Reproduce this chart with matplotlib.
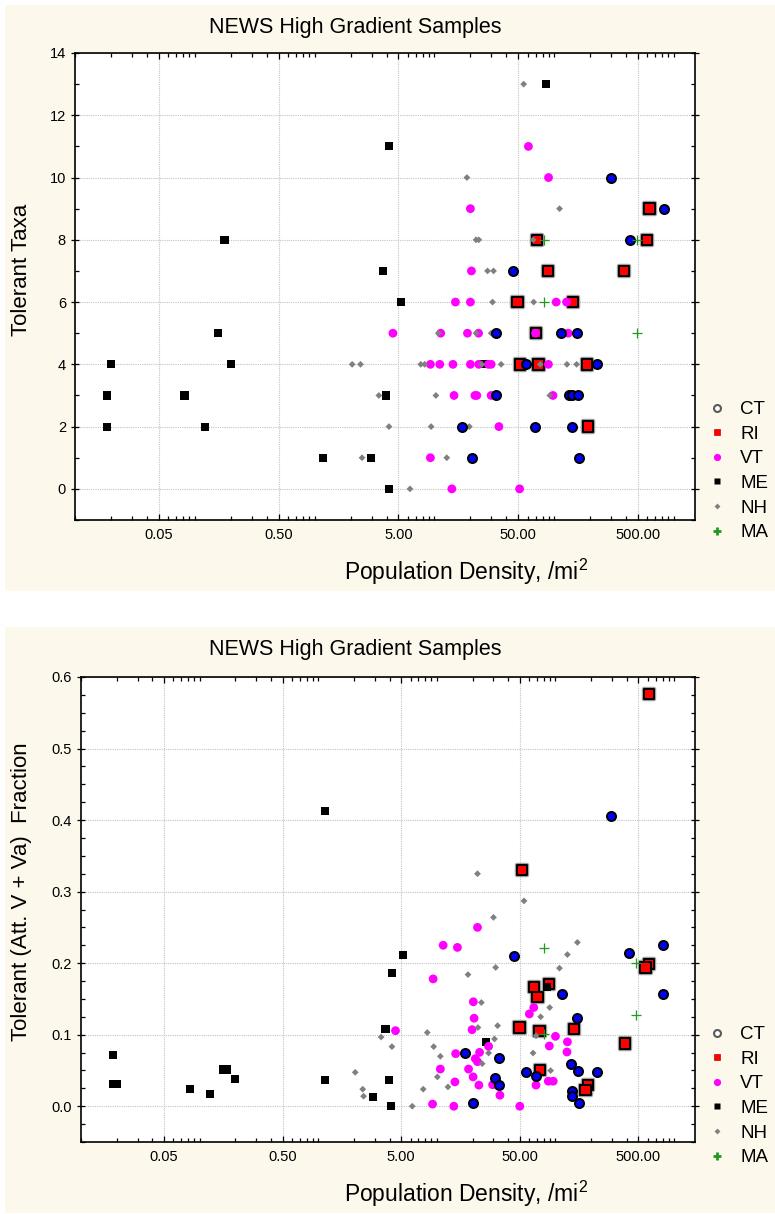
import matplotlib
matplotlib.use("Agg")
import matplotlib.pyplot as plt
import matplotlib.patheffects as pe
from matplotlib.lines import Line2D
from matplotlib.patches import Rectangle
from matplotlib.ticker import FixedLocator, FixedFormatter, LogLocator, MultipleLocator, NullFormatter

plt.rcParams["font.family"] = ["Liberation Sans", "DejaVu Sans"]
plt.rcParams["mathtext.fontset"] = "custom"
plt.rcParams["mathtext.rm"] = "Liberation Sans"

# ---------------- data: tolerant taxa per sample ----------------
ct_density_taxa = [298, 830, 429, 45.6, 32.8, 114, 154, 57.9, 226, 32.8, 132, 141, 157, 17.1, 69.2, 141, 20.8, 161]
ct_taxa = [10, 9, 8, 7, 5, 5, 5, 4, 4, 3, 3, 3, 3, 2, 2, 2, 1, 1]

ri_density_taxa = [627, 71.6, 599, 88.5, 385, 49.5, 144, 70.5, 51.6, 74.3, 188, 191]
ri_taxa = [9, 8, 8, 7, 7, 6, 6, 5, 4, 4, 4, 2]

vt_density_taxa = [61, 89.8, 20, 20.4, 15.0, 20.0, 104, 127, 4.51, 11.3, 18.9, 23.4, 70, 131,
                   9.27, 11.1, 14.3, 20.0, 23.5, 28.3, 29.8, 89.6, 14.6, 21.8, 22.6, 29.8, 97.8,
                   34.6, 9.27, 14.0, 51.5]
vt_taxa = [11, 10, 9, 7, 6, 6, 6, 6, 5, 5, 5, 5, 5, 5, 4, 4, 4, 4, 4, 4, 4, 4, 3, 3, 3, 3, 3,
           2, 1, 0, 0]

me_density_taxa = [0.0185, 0.0185, 0.020, 0.082, 0.122, 0.156, 0.177, 0.201, 1.17, 2.96, 3.74,
                   3.98, 4.15, 4.2, 5.24, 25.9, 85.8]
me_taxa = [2, 3, 4, 3, 2, 5, 8, 4, 1, 1, 7, 3, 0, 11, 6, 4, 13]

nh_density_taxa = [55.7, 18.7, 111, 22.3, 23.5, 66.8, 27.8, 31.2, 30.6, 67.5, 10.8, 22.3, 29.8,
                   2.06, 2.42, 7.7, 8.3, 24.9, 36.1, 76.7, 128, 154, 3.44, 10.3, 92, 4.18, 9.4,
                   19.6, 2.49, 12.7, 6.26]
nh_taxa = [13, 10, 9, 8, 8, 8, 7, 7, 6, 6, 5, 5, 5, 4, 4, 4, 4, 4, 4, 4, 4, 4, 3, 3, 3, 2, 2,
           2, 1, 1, 0]

ma_density_taxa = [82, 495, 81.8, 488]
ma_taxa = [8, 8, 6, 5]

# ---------------- data: tolerant fraction per sample ----------------
ct_density_frac = [295, 44.5, 418, 805, 805, 113, 153, 17.1, 33.4, 134, 156, 223, 56.5, 69, 31,
                   33.5, 20.1, 138, 138, 159]
ct_frac = [0.406, 0.210, 0.214, 0.226, 0.157, 0.157, 0.124, 0.074, 0.0675, 0.059, 0.049, 0.048,
           0.048, 0.042, 0.040, 0.030, 0.004, 0.021, 0.0145, 0.005]

ri_density_frac = [611, 52.3, 615, 573, 65.9, 87.7, 70.3, 49.7, 73.1, 143, 384, 73.6, 187, 179]
ri_frac = [0.576, 0.3305, 0.199, 0.194, 0.167, 0.171, 0.1526, 0.110, 0.105, 0.108, 0.0879,
           0.051, 0.0295, 0.0224]

vt_density_frac = [22.0, 11.3, 14.9, 9.3, 65.6, 60.2, 20.3, 20.6, 19.8, 4.48, 100, 126, 88.7,
                   125, 14.4, 22.9, 21.1, 22.0, 27.3, 10.7, 18.5, 20.2, 14.2, 9.2, 13.9, 22.6,
                   29.5, 34.0, 50, 68.5, 87, 95.7]
vt_frac = [0.250, 0.225, 0.222, 0.178, 0.138, 0.129, 0.146, 0.123, 0.107, 0.1056, 0.0977, 0.090,
           0.0842, 0.0758, 0.0735, 0.0753, 0.0665, 0.0623, 0.0837, 0.052, 0.052, 0.041, 0.034,
           0.003, 0.0, 0.0295, 0.030, 0.0154, 0.0, 0.0295, 0.035, 0.035]

me_density_frac = [0.0185, 0.0185, 0.020, 0.158, 0.171, 0.200, 0.0824, 0.122, 1.15, 1.15, 3.93,
                   2.92, 4.07, 3.69, 4.2, 5.2, 84.3, 26.1]
me_frac = [0.0716, 0.031, 0.031, 0.0514, 0.0514, 0.0379, 0.0238, 0.0168, 0.413, 0.0365, 0.0365,
           0.013, 0.0, 0.1075, 0.186, 0.212, 0.1665, 0.090]

nh_density_frac = [22.0, 54.3, 30.0, 153, 126, 108, 31.3, 18.3, 89.3, 75, 23.7, 22.2, 32.5, 8.3,
                   68.6, 4.18, 9.4, 30.6, 10.7, 24.1, 27.3, 64.7, 91, 10.1, 2.05, 3.39, 2.37,
                   2.41, 6.2, 7.67, 12.4]
nh_frac = [0.325, 0.287, 0.264, 0.229, 0.212, 0.193, 0.194, 0.184, 0.138, 0.125, 0.145, 0.110,
           0.1126, 0.103, 0.0986, 0.0833, 0.0833, 0.094, 0.0698, 0.0595, 0.0744, 0.0744, 0.0498,
           0.041, 0.0474, 0.0967, 0.0238, 0.014, 0.0, 0.0238, 0.027]

ma_density_frac = [80, 475, 475, 80]
ma_frac = [0.221, 0.200, 0.128, 0.1014]

states = ["CT", "RI", "VT", "ME", "NH", "MA"]
x_ticks = [0.05, 0.5, 5, 50, 500]
x_tick_labels = ["0.05", "0.50", "5.00", "50.00", "500.00"]
taxa_ticks = [0, 2, 4, 6, 8, 10, 12, 14]
frac_ticks = [0.0, 0.1, 0.2, 0.3, 0.4, 0.5, 0.6]
frac_tick_labels = ["0.0", "0.1", "0.2", "0.3", "0.4", "0.5", "0.6"]

title = "NEWS High Gradient Samples"
x_label = "Population Density, /mi$^{\\mathregular{2}}$"

# ---------------- figure ----------------
W, H, DPI = 775, 1214, 100
fig = plt.figure(figsize=(W / DPI, H / DPI), dpi=DPI, facecolor="white")
CREAM = "#fdf8ec"


def px_box(x0, y0, x1, y1):
    return [x0 / W, 1 - y1 / H, (x1 - x0) / W, (y1 - y0) / H]


for y0, y1 in [(5, 591), (627, 1213)]:
    fig.patches.append(Rectangle((5 / W, 1 - y1 / H), (W - 5) / W, (y1 - y0) / H,
                                 transform=fig.transFigure, facecolor=CREAM,
                                 edgecolor="none", zorder=-10))

ax1 = fig.add_axes(px_box(75, 53, 695, 520))
ax2 = fig.add_axes(px_box(81, 677, 695, 1142))

styles = {
    "CT": dict(marker="o", s=42, facecolor="#0000ff", edgecolor="black", linewidths=1.45, zorder=7),
    "RI": dict(marker="s", s=56, facecolor="#ff0000", edgecolor="black", linewidths=1.45, zorder=3),
    "VT": dict(marker="o", s=40, facecolor="#ff00ff", edgecolor="none", zorder=5),
    "ME": dict(marker="s", s=34, facecolor="black", edgecolor="none", zorder=4),
    "NH": dict(marker="D", s=12, facecolor="#808080", edgecolor="none", zorder=6),
    "MA": dict(marker="+", s=60, color="#1f9a1f", linewidths=0.9, zorder=8),
}

halo = [pe.Stroke(linewidth=3.2, foreground="#a0a0a0"), pe.Normal()]

panel_data = [
    (ax1, {"CT": (ct_density_taxa, ct_taxa), "RI": (ri_density_taxa, ri_taxa),
           "VT": (vt_density_taxa, vt_taxa), "ME": (me_density_taxa, me_taxa),
           "NH": (nh_density_taxa, nh_taxa), "MA": (ma_density_taxa, ma_taxa)}),
    (ax2, {"CT": (ct_density_frac, ct_frac), "RI": (ri_density_frac, ri_frac),
           "VT": (vt_density_frac, vt_frac), "ME": (me_density_frac, me_frac),
           "NH": (nh_density_frac, nh_frac), "MA": (ma_density_frac, ma_frac)}),
]

for ax, data in panel_data:
    for st in states:
        xs, ys = data[st]
        coll = ax.scatter(xs, ys, **styles[st])
        if st == "RI":
            coll.set_path_effects(halo)

    ax.set_xscale("log")
    ax.set_xlim(0.01, 1500)
    ax.xaxis.set_major_locator(FixedLocator(x_ticks))
    ax.xaxis.set_major_formatter(FixedFormatter(x_tick_labels))
    ax.xaxis.set_minor_locator(LogLocator(base=10, subs=range(1, 10), numticks=50))
    ax.xaxis.set_minor_formatter(NullFormatter())
    ax.set_axisbelow(True)
    ax.grid(True, which="major", color="#c4c4c4", linestyle=(0, (1, 1)), linewidth=0.8)
    ax.tick_params(which="both", direction="in", top=True, right=True,
                   labelsize=10.5, colors="black", width=0.9)
    ax.tick_params(which="major", length=4.5)
    ax.tick_params(which="minor", length=3)
    ax.tick_params(axis="y", which="major", direction="inout", length=6)
    ax.tick_params(axis="x", pad=6)
    for sp in ax.spines.values():
        sp.set_linewidth(1.2)
        sp.set_color("black")
    ax.set_facecolor("white")

ax1.set_ylim(-1, 14)
ax1.yaxis.set_major_locator(FixedLocator(taxa_ticks))
ax1.yaxis.set_minor_locator(MultipleLocator(1))

ax2.set_ylim(-0.05, 0.6)
ax2.yaxis.set_major_locator(FixedLocator(frac_ticks))
ax2.yaxis.set_major_formatter(FixedFormatter(frac_tick_labels))
ax2.yaxis.set_minor_locator(MultipleLocator(0.025))

# titles and axis labels placed in pixel positions of each panel
for off, ylab, ylab_y in [(0, "Tolerant Taxa", 270), (622, "Tolerant (Att. V + Va)  Fraction", 892)]:
    fig.text(355 / W, 1 - (27 + off) / H, title, ha="center", va="center", fontsize=15.5)
    fig.text(466 / W, 1 - (572 + off) / H, x_label, ha="center", va="center", fontsize=16.5)
    fig.text(22 / W, 1 - ylab_y / H, ylab, ha="center", va="center", rotation=90, fontsize=16)

# legends
legend_handles = [
    Line2D([], [], linestyle="none", marker="o", markersize=5, markerfacecolor="white",
           markeredgecolor="#5a5a5a", markeredgewidth=1.5),
    Line2D([], [], linestyle="none", marker="s", markersize=4.6, markerfacecolor="#ff0000",
           markeredgecolor="#d00000", markeredgewidth=0.5),
    Line2D([], [], linestyle="none", marker="o", markersize=5.2, markerfacecolor="#ff00ff",
           markeredgecolor="none"),
    Line2D([], [], linestyle="none", marker="s", markersize=4.8, markerfacecolor="black",
           markeredgecolor="none"),
    Line2D([], [], linestyle="none", marker="D", markersize=3.0, markerfacecolor="#808080",
           markeredgecolor="none"),
    Line2D([], [], linestyle="none", marker="+", markersize=5.5, markeredgecolor="#1f9a1f",
           markeredgewidth=2.0),
]

for top_px in [401, 1026]:
    fig.legend(legend_handles, states, loc="upper left",
               bbox_to_anchor=(707.5 / W, 1 - top_px / H), bbox_transform=fig.transFigure,
               frameon=False, fontsize=13.5, handlelength=1.0, handletextpad=0.75,
               borderpad=0, borderaxespad=0, labelspacing=0.4)

fig.savefig("out.png", dpi=DPI, facecolor="white")
